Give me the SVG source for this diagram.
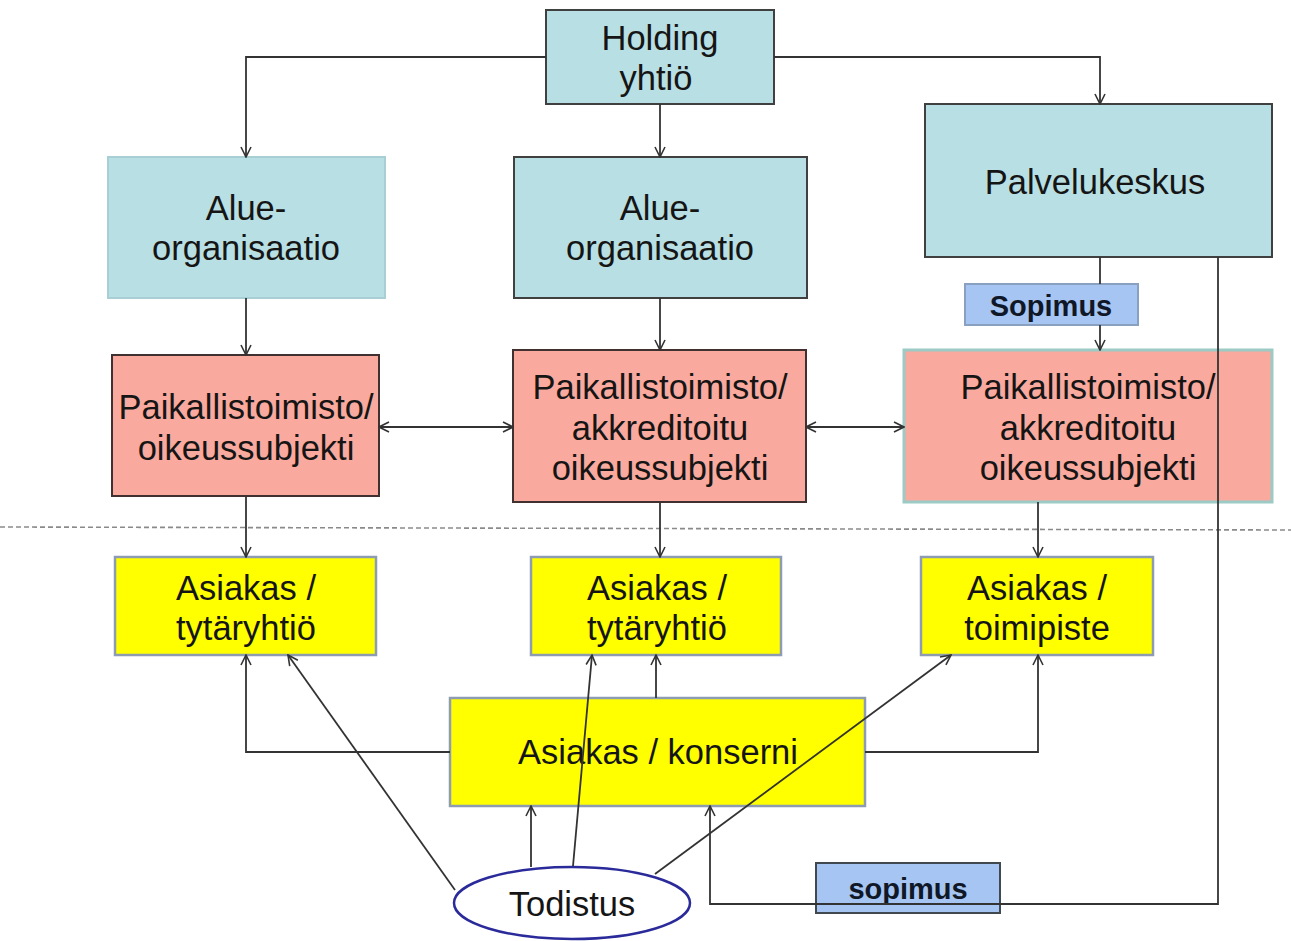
<svg xmlns="http://www.w3.org/2000/svg" width="1291" height="941" viewBox="0 0 1291 941">
<style>
.t{font-family:"Liberation Sans",Arial,sans-serif;font-size:34.5px;fill:#151515;text-anchor:middle}
.b{font-family:"Liberation Sans",Arial,sans-serif;font-size:29px;font-weight:bold;fill:#101828;text-anchor:middle}
.cy{fill:#b8dfe3;stroke:#404040;stroke-width:2}
.cyl{fill:#b8dfe3;stroke:#a8cfd3;stroke-width:2}
.sa{fill:#f9a99d;stroke:#403030;stroke-width:2}
.sal{fill:#f9a99d;stroke:#9ccac4;stroke-width:3}
.ye{fill:#ffff00;stroke:#8e9cb2;stroke-width:2.5}
.bl{fill:#a6c5f2;stroke:#8aa0c0;stroke-width:2}
.bld{fill:#a6c5f2;stroke:#404850;stroke-width:2}
.c{fill:none;stroke:#333;stroke-width:1.8}
.a{marker-end:url(#ah)}
.d{marker-start:url(#ah);marker-end:url(#ah)}
</style>
<defs>
<marker id="ah" viewBox="0 0 12 12" refX="11" refY="6" markerWidth="12" markerHeight="12" markerUnits="userSpaceOnUse" orient="auto-start-reverse">
<path d="M1,1 L11,6 L1,11" fill="none" stroke="#333" stroke-width="1.6"/>
</marker>
</defs>
<rect width="1291" height="941" fill="#ffffff"/>
<line x1="0" y1="527" x2="1291" y2="530" stroke="#8a8a8a" stroke-width="1.6" stroke-dasharray="5,3"/>
<g id="holding"><rect class="cy" x="546" y="10" width="228" height="94"/><text class="t" x="660" y="50">Holding</text><text class="t" x="656" y="90">yhtiö</text></g>
<g id="alue1"><rect class="cyl" x="108" y="157" width="277" height="141"/><text class="t" x="246" y="220">Alue-</text><text class="t" x="246" y="260">organisaatio</text></g>
<g id="alue2"><rect class="cy" x="514" y="157" width="293" height="141"/><text class="t" x="660" y="220">Alue-</text><text class="t" x="660" y="260">organisaatio</text></g>
<g id="palvelukeskus"><rect class="cy" x="925" y="104" width="347" height="153"/><text class="t" x="1095" y="194">Palvelukeskus</text></g>
<g id="sopimus1"><rect class="bl" x="965" y="284" width="173" height="41"/><text class="b" x="1051" y="316">Sopimus</text></g>
<g id="paik1"><rect class="sa" x="112" y="355" width="267" height="141"/><text class="t" x="246" y="419">Paikallistoimisto/</text><text class="t" x="246" y="460">oikeussubjekti</text></g>
<g id="paik2"><rect class="sa" x="513" y="350" width="293" height="152"/><text class="t" x="660" y="399">Paikallistoimisto/</text><text class="t" x="660" y="440">akkreditoitu</text><text class="t" x="660" y="480">oikeussubjekti</text></g>
<g id="paik3"><rect class="sal" x="904" y="350" width="368" height="152"/><text class="t" x="1088" y="399">Paikallistoimisto/</text><text class="t" x="1088" y="440">akkreditoitu</text><text class="t" x="1088" y="480">oikeussubjekti</text></g>
<g id="asiakas1"><rect class="ye" x="115" y="557" width="261" height="98"/><text class="t" x="246" y="600">Asiakas /</text><text class="t" x="246" y="640">tytäryhtiö</text></g>
<g id="asiakas2"><rect class="ye" x="531" y="557" width="250" height="98"/><text class="t" x="657" y="600">Asiakas /</text><text class="t" x="657" y="640">tytäryhtiö</text></g>
<g id="asiakas3"><rect class="ye" x="921" y="557" width="232" height="98"/><text class="t" x="1037" y="600">Asiakas /</text><text class="t" x="1037" y="640">toimipiste</text></g>
<g id="konserni"><rect class="ye" x="450" y="698" width="415" height="108"/><text class="t" x="658" y="764">Asiakas / konserni</text></g>
<g id="sopimus2"><rect class="bld" x="816" y="863" width="184" height="50"/><text class="b" x="908" y="899">sopimus</text></g>
<g id="todistus"><ellipse cx="572" cy="903" rx="118" ry="36" fill="#ffffff" stroke="#2a2a9a" stroke-width="2.5"/><text class="t" x="572" y="916">Todistus</text></g>
<g id="connectors">
<path class="c a" d="M546,57 H246 V157"/>
<path class="c a" d="M660,104 V157"/>
<path class="c a" d="M774,57 H1100 V104"/>
<path class="c a" d="M246,298 V355"/>
<path class="c a" d="M660,298 V350"/>
<path class="c" d="M1100,257 V284"/>
<path class="c a" d="M1100,325 V350"/>
<path class="c d" d="M379,427 H513"/>
<path class="c d" d="M806,427 H904"/>
<path class="c a" d="M246,496 V557"/>
<path class="c a" d="M660,502 V557"/>
<path class="c a" d="M1038,502 V557"/>
<path class="c a" d="M450,752 H246 V655"/>
<path class="c a" d="M656,698 V655"/>
<path class="c a" d="M865,752 H1038 V655"/>
<path class="c a" d="M455,890 L288,655"/>
<path class="c a" d="M531,867 V806"/>
<path class="c a" d="M573,866 L592,655"/>
<path class="c a" d="M655,874 L951,655"/>
<path class="c a" d="M1218,257 V904 H710 V806"/>
</g>
</svg>
